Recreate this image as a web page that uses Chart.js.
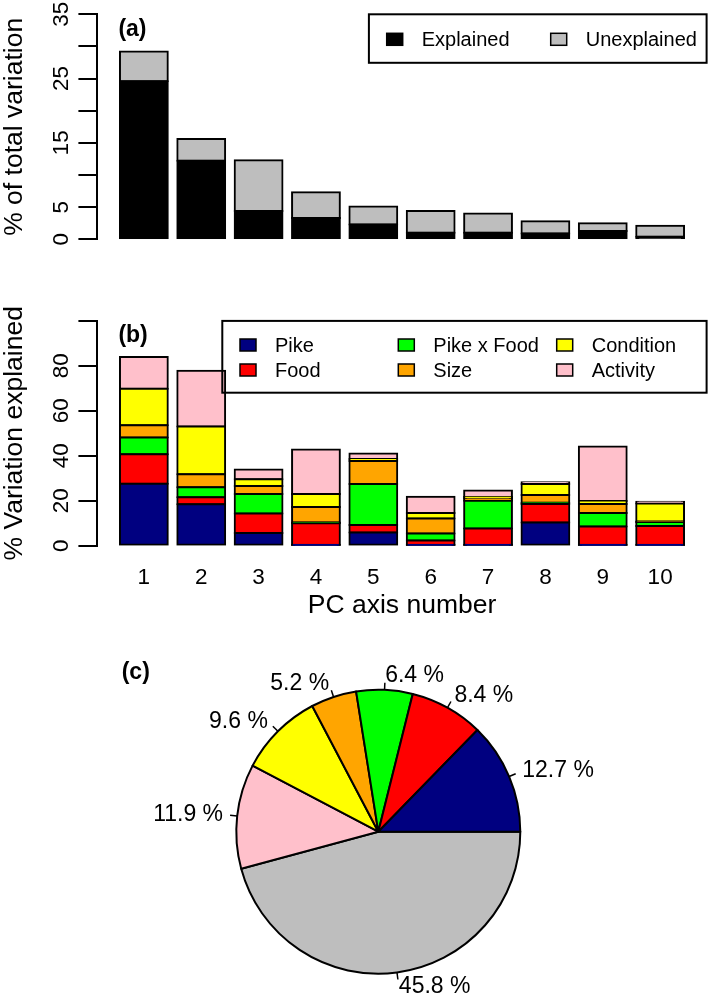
<!DOCTYPE html>
<html><head><meta charset="utf-8">
<script src="https://cdn.jsdelivr.net/npm/chart.js@4.4.1/dist/chart.umd.min.js"></script>
<style>
html,body{margin:0;padding:0;background:#fff;}
body{width:709px;height:1003px;position:relative;overflow:hidden;}
.panel{position:absolute;left:0;}
canvas{display:block;}
</style></head><body>
<div class="panel" style="top:0px"><canvas id="ca" width="709" height="265"></canvas></div>
<div class="panel" style="top:300px"><canvas id="cb" width="709" height="340"></canvas></div>
<div class="panel" style="top:640px"><canvas id="cc" width="709" height="363"></canvas></div>
<script>
// ---------------- data ----------------
const pcAxes = ['1','2','3','4','5','6','7','8','9','10'];

// panel (a): % of total variation per PC axis
const explainedVals   = [24.6, 12.2, 4.4, 3.3, 2.3, 1.0, 1.0, 0.9, 1.3, 0.4];
const unexplainedVals = [4.6, 3.4, 7.9, 4.0, 2.8, 3.4, 3.0, 1.9, 1.2, 1.7];
const partNames = ['Explained', 'Unexplained'];

// panel (b): % variation explained by each effect
const effectNames   = ['Pike', 'Food', 'Pike x Food', 'Size', 'Condition', 'Activity'];
const pikeVals      = [27.6, 18.4, 5.7, 0.1, 5.9, 0.1, 0.3, 10.3, 0.2, 0.2];
const foodVals      = [13.1, 3.1, 8.6, 9.9, 3.3, 2.2, 7.4, 8.2, 8.3, 8.6];
const pikeFoodVals  = [7.4, 4.5, 8.7, 0.3, 18.3, 3.1, 12.3, 0.6, 6.1, 1.6];
const sizeVals      = [5.5, 5.8, 3.6, 6.9, 10.2, 6.7, 0.9, 3.5, 4.0, 0.4];
const conditionVals = [16.2, 21.2, 3.0, 5.8, 0.9, 2.5, 0.8, 4.8, 1.3, 8.0];
const activityVals  = [14.1, 24.8, 4.3, 19.8, 2.4, 7.2, 2.8, 0.8, 24.2, 0.7];

// panel (c): overall share
const pieLabels = ['Pike', 'Food', 'Pike x Food', 'Size', 'Condition', 'Activity', 'Unexplained'];
const pieValues = [12.7, 8.4, 6.4, 5.2, 9.6, 11.9, 45.8];

// axis tick labels
const yTicksA = [0, 5, 15, 25, 35];
const yTicksB = [0, 20, 40, 60, 80];

// ---------------- styles ----------------
const FONT = "'Liberation Sans', Arial, Helvetica, sans-serif";
Chart.defaults.font.family = FONT;
Chart.defaults.color = '#000';
const effectColors = ['#000080', '#FF0000', '#00FF00', '#FFA500', '#FFFF00', '#FFC0CB'];
const partColors = ['#000000', '#BEBEBE'];
const pieColors = effectColors.concat(['#BEBEBE']);

const X_MIN = -0.272, X_MAX = 12.472;          // R barplot region (space = 0.2)
const barCenter = i => 0.7 + 1.2 * i;
const AXIS_W = 97.4;

const barStyle = {
  borderColor: '#000', borderWidth: 2, borderSkipped: false, inflateAmount: 1,
  barPercentage: 1 / 1.2, categoryPercentage: 1
};

function xScale(showLabels, title) {
  return {
    type: 'linear', min: X_MIN, max: X_MAX, stacked: true, offset: false,
    grid: { display: false }, border: { display: false },
    afterBuildTicks: s => { s.ticks = pcAxes.map((_, i) => ({ value: barCenter(i) })); },
    afterFit: s => { s.height = showLabels ? 80 : 0; },
    ticks: { display: showLabels, autoSkip: false, maxRotation: 0, minRotation: 0, padding: 11,
             font: { size: 22.5 }, color: '#000', callback: (v, i) => pcAxes[i] },
    title: { display: !!title, text: title || '', color: '#000',
             font: { size: 26.5, lineHeight: 1.2 }, padding: { top: 0, bottom: 3.8 } }
  };
}
function yScale(max, step, title) {
  return {
    type: 'linear', min: 0, max: max, stacked: true,
    ticks: { display: false, stepSize: step },
    grid: { drawOnChartArea: false, drawTicks: true, tickLength: 19, color: '#000', lineWidth: 2 },
    border: { display: true, color: '#000', width: 2 },
    title: { display: true, text: title, color: '#000', font: { size: 26.5, lineHeight: 1 },
             padding: { top: 1, bottom: 0 } },
    afterFit: s => { s.width = AXIS_W; }
  };
}

// R-like decorations: rotated y labels, panel tag, boxed legend
function rDeco(opts) {
  return {
    id: 'rdeco',
    afterDraw(chart) {
      const ctx = chart.ctx, ca = chart.chartArea, ys = chart.scales.y;
      ctx.save();
      ctx.fillStyle = '#000';
      // y tick labels (rotated, R style)
      ctx.font = '22.5px ' + FONT;
      ctx.textAlign = 'center'; ctx.textBaseline = 'alphabetic';
      opts.yTicks.forEach(v => {
        ctx.save();
        ctx.translate(ys.right - 29, ys.getPixelForValue(v));
        ctx.rotate(-Math.PI / 2);
        ctx.fillText(String(v), 0, 0);
        ctx.restore();
      });
      // panel tag
      ctx.font = 'bold 23px ' + FONT;
      ctx.textAlign = 'left'; ctx.textBaseline = 'middle';
      ctx.fillText(opts.tag, ca.left + 21, ca.top + 15);
      // legend
      const L = opts.legend;
      const bx = ca.right - L.w, by = ca.top;
      ctx.lineWidth = 2; ctx.strokeStyle = '#000';
      ctx.strokeRect(bx, by, L.w, L.h);
      ctx.font = '20px ' + FONT;
      chart.data.datasets.forEach((ds, k) => {
        const col = Math.floor(k / L.rows), row = k % L.rows;
        const sx = bx + L.colX[col], cy = by + L.rowY[row];
        ctx.fillStyle = ds.backgroundColor;
        ctx.fillRect(sx, cy - 6, 16, 12);
        ctx.lineWidth = 1.5;
        ctx.strokeRect(sx, cy - 6, 16, 12);
        ctx.fillStyle = '#000';
        ctx.fillText(ds.label, sx + 35, cy + 1);
      });
      ctx.restore();
    }
  };
}

// ---------------- panel (a) ----------------
new Chart(document.getElementById('ca'), {
  type: 'bar',
  data: {
    datasets: [explainedVals, unexplainedVals].map((vals, k) => Object.assign({
      label: partNames[k],
      data: vals.map((v, i) => ({ x: barCenter(i), y: v })),
      backgroundColor: partColors[k]
    }, barStyle))
  },
  options: {
    responsive: false, animation: false, events: [],
    layout: { padding: { left: 0, right: 2.4, top: 14.3, bottom: 25.7 } },
    plugins: { legend: { display: false }, tooltip: { enabled: false } },
    scales: { x: xScale(false), y: yScale(35, 5, '% of total variation') }
  },
  plugins: [rDeco({ yTicks: yTicksA, tag: '(a)',
    legend: { w: 337.7, h: 48.5, rows: 1, colX: [17.8, 181.8], rowY: [25] } })]
});

// ---------------- panel (b) ----------------
const effectSeries = [pikeVals, foodVals, pikeFoodVals, sizeVals, conditionVals, activityVals];
new Chart(document.getElementById('cb'), {
  type: 'bar',
  data: {
    datasets: effectSeries.map((vals, k) => Object.assign({
      label: effectNames[k],
      data: vals.map((v, i) => ({ x: barCenter(i), y: v })),
      backgroundColor: effectColors[k]
    }, barStyle))
  },
  options: {
    responsive: false, animation: false, events: [],
    layout: { padding: { left: 0, right: 2.4, top: 20.9, bottom: 14.3 } },
    plugins: { legend: { display: false }, tooltip: { enabled: false } },
    scales: { x: xScale(true, 'PC axis number'), y: yScale(100, 20, '% Variation explained') }
  },
  plugins: [rDeco({ yTicks: yTicksB, tag: '(b)',
    legend: { w: 484.3, h: 71.8, rows: 2, colX: [17.7, 176, 334.4], rowY: [24.1, 49.1] } })]
});

// ---------------- panel (c) ----------------
const pieLabelPlugin = {
  id: 'pielabels',
  afterDraw(chart) {
    const ctx = chart.ctx;
    const meta = chart.getDatasetMeta(0);
    const vals = chart.data.datasets[0].data;
    ctx.save();
    ctx.strokeStyle = '#000'; ctx.lineWidth = 1.5; ctx.fillStyle = '#000';
    ctx.font = '23px ' + FONT; ctx.textBaseline = 'middle';
    meta.data.forEach((arc, i) => {
      const a = (arc.startAngle + arc.endAngle) / 2, r = arc.outerRadius;
      const c = Math.cos(a), s = Math.sin(a);
      ctx.beginPath();
      ctx.moveTo(arc.x + r * c, arc.y + r * s);
      ctx.lineTo(arc.x + 1.05 * r * c, arc.y + 1.05 * r * s);
      ctx.stroke();
      ctx.textAlign = c < 0 ? 'right' : 'left';
      ctx.fillText(vals[i].toFixed(1) + ' %', arc.x + 1.1 * r * c, arc.y + 1.1 * r * s);
    });
    ctx.font = 'bold 23px ' + FONT; ctx.textAlign = 'left';
    ctx.fillText('(c)', 121.7, 33);
    ctx.restore();
  }
};
new Chart(document.getElementById('cc'), {
  type: 'pie',
  data: {
    labels: pieLabels.slice().reverse(),
    datasets: [{
      data: pieValues.slice().reverse(),
      backgroundColor: pieColors.slice().reverse(),
      borderColor: '#000', borderWidth: 2, borderJoinStyle: 'round',
      radius: 142, rotation: 90
    }]
  },
  options: {
    responsive: false, animation: false, events: [],
    rotation: 90, radius: 142,
    layout: { padding: { left: 47.6, right: 0, top: 20.4, bottom: 0 } },
    plugins: { legend: { display: false }, tooltip: { enabled: false } }
  },
  plugins: [pieLabelPlugin]
});
</script>
</body></html>
